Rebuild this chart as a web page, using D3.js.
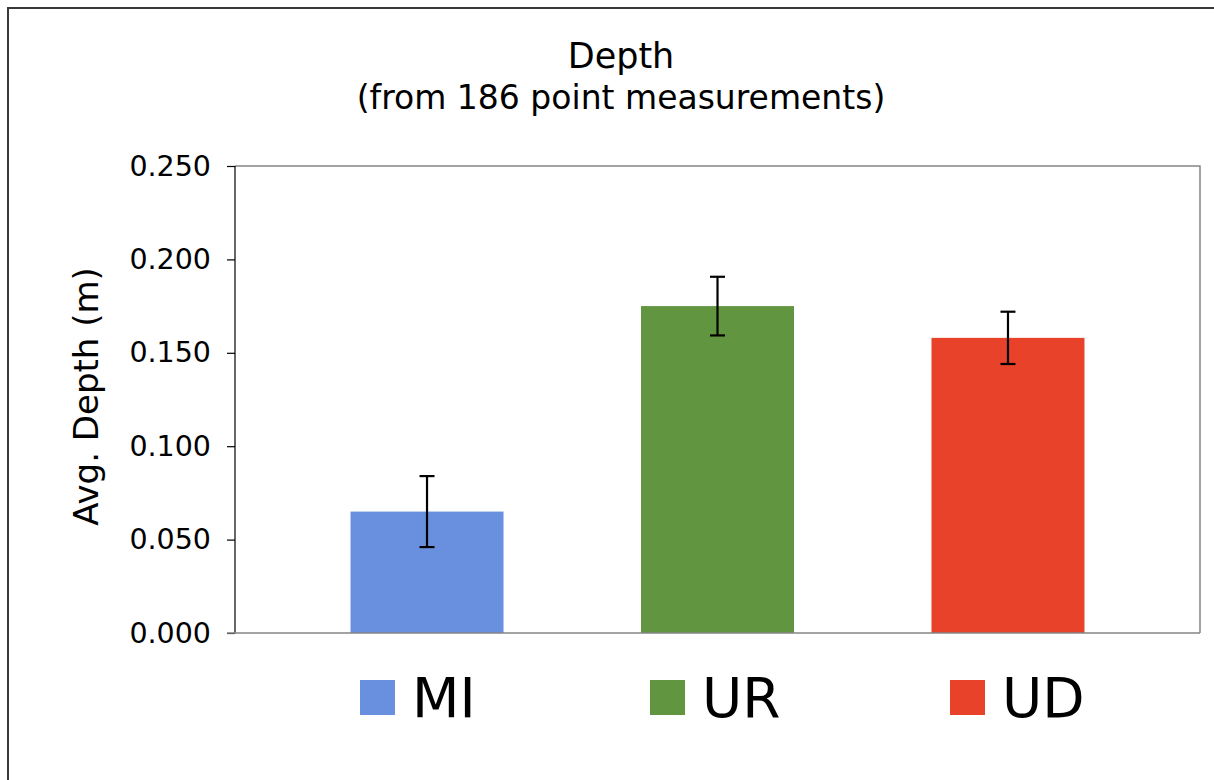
<!DOCTYPE html>
<html><head><meta charset="utf-8">
<script src="https://cdn.jsdelivr.net/npm/d3@7"></script>
<style>body{margin:0;background:#fff}svg{display:block}text{font-family:"DejaVu Sans",Verdana,sans-serif;fill:#000}</style>
</head><body>
<svg id="c" width="1214" height="780"></svg>
<script>
const categories = ["MI","UR","UD"];
const values = [0.065, 0.175, 0.158];
const errors = [0.019, 0.0157, 0.014];
const colors = ["#6890df","#62953f","#e8432a"];
const yTicks = [0,0.05,0.1,0.15,0.2,0.25];
const title = "Depth";
const subtitle = "(from 186 point measurements)";
const yLabel = "Avg. Depth (m)";

const svg = d3.select("#c");
const L=235,R=1200,T=166,B=633;
// outer border
svg.append("path").attr("d","M8,790 L8,8 L1230,8").attr("fill","none").attr("stroke","#3a3a3a").attr("stroke-width",2);

const x = d3.scaleBand().domain(categories).range([L,R]).paddingInner(0.4733).paddingOuter(0.3977);
const y = d3.scaleLinear().domain([0,0.25]).range([B,T]);

// plot frame top/right gray
svg.append("path").attr("d",`M${L},${T} L${R},${T} L${R},${B}`).attr("fill","none").attr("stroke","#858585").attr("stroke-width",1.5);

// bars
svg.selectAll("rect.bar").data(categories).join("rect").attr("class","bar")
  .attr("x",d=>x(d)).attr("width",x.bandwidth())
  .attr("y",(d,i)=>y(values[i])).attr("height",(d,i)=>B-y(values[i]))
  .attr("fill",(d,i)=>colors[i]);

// error bars
const eg = svg.append("g").attr("stroke","#000").attr("stroke-width",2.2);
categories.forEach((c,i)=>{
  const cx = x(c)+x.bandwidth()/2;
  const y1=y(values[i]+errors[i]), y2=y(values[i]-errors[i]);
  eg.append("line").attr("x1",cx).attr("x2",cx).attr("y1",y1).attr("y2",y2);
  eg.append("line").attr("x1",cx-7.5).attr("x2",cx+7.5).attr("y1",y1).attr("y2",y1);
  eg.append("line").attr("x1",cx-7.5).attr("x2",cx+7.5).attr("y1",y2).attr("y2",y2);
});

// y axis
const ya = svg.append("g").attr("transform",`translate(${L},0)`)
  .call(d3.axisLeft(y).tickValues(yTicks).tickFormat(d3.format(".3f")).tickSize(8).tickPadding(16));
ya.select(".domain").attr("stroke","#000").attr("stroke-width",1.2).attr("d",`M0,${T}V${B}`);
ya.selectAll(".tick line").attr("stroke","#000").attr("stroke-width",1.2);
ya.selectAll(".tick text").attr("font-size",28.5).attr("font-family","DejaVu Sans").attr("fill","#000");

// bottom axis
svg.append("line").attr("x1",L-8).attr("x2",R).attr("y1",B).attr("y2",B).attr("stroke","#858585").attr("stroke-width",1.5);

// titles
svg.append("text").attr("x",621).attr("y",68).attr("text-anchor","middle").attr("font-size",35).text(title);
svg.append("text").attr("x",621).attr("y",109).attr("text-anchor","middle").attr("font-size",33).text(subtitle);
svg.append("text").attr("transform",`translate(98,${(T+B)/2-3}) rotate(-90)`).attr("text-anchor","middle").attr("font-size",34).text(yLabel);

// legend
const legX = [360,650,950];
categories.forEach((c,i)=>{
  svg.append("rect").attr("x",legX[i]).attr("y",680).attr("width",35).attr("height",35).attr("fill",colors[i]);
  svg.append("text").attr("x",legX[i]+52).attr("y",717).attr("font-size",55).text(c);
});
</script>
</body></html>
